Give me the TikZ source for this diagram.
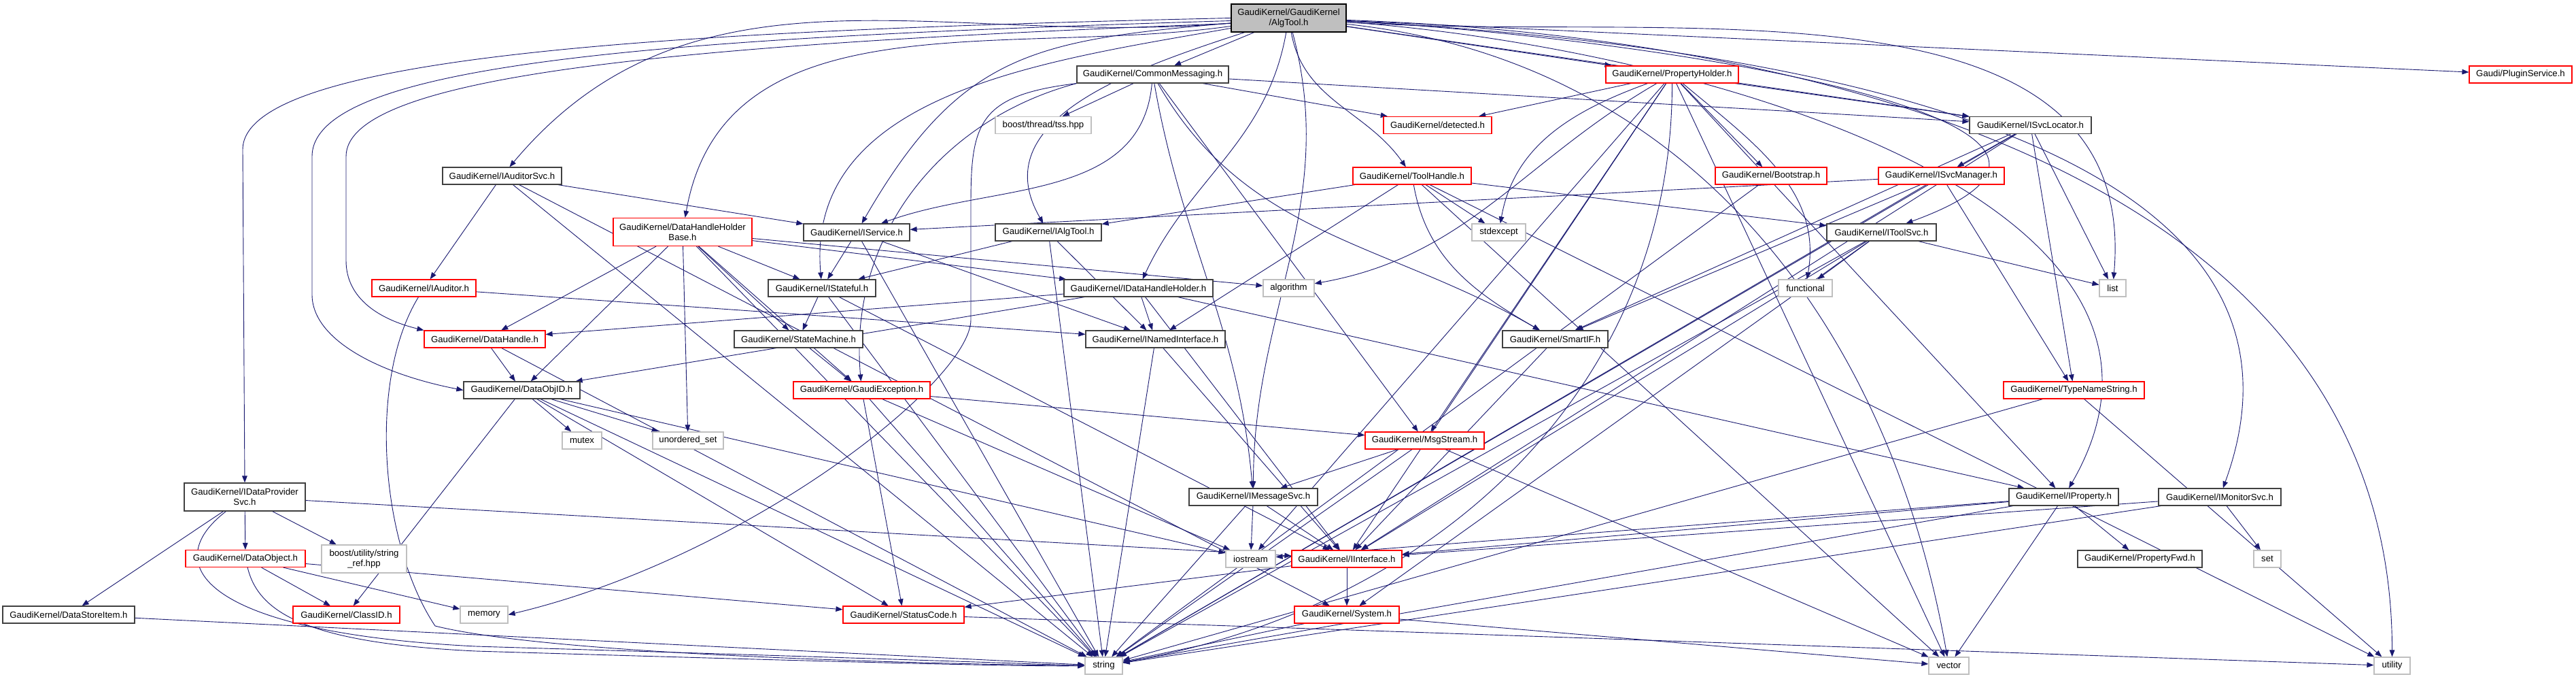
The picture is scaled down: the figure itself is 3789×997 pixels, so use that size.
\documentclass[tikz,border=0pt]{standalone}
\usepackage{fontspec}
\setmainfont{Liberation Sans}
\usetikzlibrary{arrows.meta}

\definecolor{edgeblue}{HTML}{191970}
\definecolor{docgray}{HTML}{404040}
\definecolor{sysgray}{HTML}{BFBFBF}

\pgfdeclarelayer{back}
\pgfdeclarelayer{links}
\pgfsetlayers{back,links,main}

\tikzset{
  hdr/.style={draw=docgray, line width=0.6pt, fill=white, inner sep=0pt,
    minimum height=12.5pt, align=center,
    font=\fontsize{6.6}{7.5}\selectfont},
  hdrred/.style={hdr, draw=red},
  hdrsys/.style={hdr, draw=sysgray},
  hdrtop/.style={hdr, draw=black, fill=sysgray},
  bw/.style={minimum width=#1*0.5pt},
  tall/.style={minimum height=20.5pt},
  link/.style={draw=edgeblue, line width=0.45pt,
    -{Triangle[length=5pt,width=3.8pt]}},
}

\begin{document}
\begin{tikzpicture}[x=0.5pt, y=-0.5pt, every edge/.style={link}]

  \useasboundingbox (0,0) rectangle (3789,997);
  \begin{pgfonlayer}{back}
    \fill[white] (0,0) rectangle (3789,997);
  \end{pgfonlayer}

  % row 0
  \node[hdrtop, bw=169, tall] (main) at (1895.5,26.5) {GaudiKernel/GaudiKernel\\/AlgTool.h};
  % row 1
  \node[hdr, bw=223] (cmsg) at (1695.5,109.5) {GaudiKernel/CommonMessaging.h};
  \node[hdrred, bw=195] (propholder) at (2459.5,109.5) {GaudiKernel/PropertyHolder.h};
  \node[hdrred, bw=151] (plugin) at (3707.5,109.5) {Gaudi/PluginService.h};
  % row 2
  \node[hdrsys, bw=141] (tss) at (1534.5,184) {boost/thread/tss.hpp};
  \node[hdrred, bw=159] (detected) at (2114.5,184) {GaudiKernel/detected.h};
  \node[hdr, bw=179] (isvcloc) at (2986.5,184) {GaudiKernel/ISvcLocator.h};
  % row 3
  \node[hdr, bw=175] (iaudsvc) at (738.5,258.5) {GaudiKernel/IAuditorSvc.h};
  \node[hdrred, bw=174] (toolhandle) at (2077,258.5) {GaudiKernel/ToolHandle.h};
  \node[hdrred, bw=164] (bootstrap) at (2605,258.5) {GaudiKernel/Bootstrap.h};
  \node[hdrred, bw=185] (isvcmgr) at (2855.5,258.5) {GaudiKernel/ISvcManager.h};
  % row 4
  \node[hdrred, bw=204, tall] (dhhbase) at (1004,341) {GaudiKernel/DataHandleHolder\\Base.h};
  \node[hdr, bw=156] (isvc) at (1260,341.5) {GaudiKernel/IService.h};
  \node[hdr, bw=156] (ialgtool) at (1542,341.5) {GaudiKernel/IAlgTool.h};
  \node[hdrsys, bw=79] (stdexc) at (2204.5,341.5) {stdexcept};
  \node[hdr, bw=161] (itoolsvc) at (2767.5,341.5) {GaudiKernel/IToolSvc.h};
  % row 5
  \node[hdrred, bw=153] (iaud) at (623.5,423.5) {GaudiKernel/IAuditor.h};
  \node[hdr, bw=158] (istateful) at (1209,423.5) {GaudiKernel/IStateful.h};
  \node[hdr, bw=219] (idhh) at (1674.5,423.5) {GaudiKernel/IDataHandleHolder.h};
  \node[hdrsys, bw=75] (algo) at (1895.5,423.5) {algorithm};
  \node[hdrsys, bw=79] (functional) at (2655.5,423.5) {functional};
  \node[hdrsys, bw=39] (list) at (3107.5,423.5) {list};
  % row 6
  \node[hdrred, bw=178] (dhandle) at (713,498.5) {GaudiKernel/DataHandle.h};
  \node[hdr, bw=189] (statemach) at (1174.5,498.5) {GaudiKernel/StateMachine.h};
  \node[hdr, bw=205] (inamed) at (1699.5,498.5) {GaudiKernel/INamedInterface.h};
  \node[hdr, bw=155] (smartif) at (2287.5,498.5) {GaudiKernel/SmartIF.h};
  % row 7
  \node[hdr, bw=171] (dataobjid) at (767.5,573.5) {GaudiKernel/DataObjID.h};
  \node[hdrred, bw=201] (gexc) at (1267.5,573.5) {GaudiKernel/GaudiException.h};
  \node[hdrred, bw=207] (typename) at (3050.5,573.5) {GaudiKernel/TypeNameString.h};
  % row 8
  \node[hdrsys, bw=58] (mutex) at (856,647.5) {mutex};
  \node[hdrsys, bw=104] (uset) at (1012,647.5) {unordered\_set};
  \node[hdrred, bw=175] (msgstream) at (2095.5,647.5) {GaudiKernel/MsgStream.h};
  % row 9
  \node[hdr, bw=178, tall] (idps) at (360,730.5) {GaudiKernel/IDataProvider\\Svc.h};
  \node[hdr, bw=189] (imsgsvc) at (1843.5,730.5) {GaudiKernel/IMessageSvc.h};
  \node[hdr, bw=161] (iprop) at (3035.5,730.5) {GaudiKernel/IProperty.h};
  \node[hdr, bw=180] (imonsvc) at (3265,730.5) {GaudiKernel/IMonitorSvc.h};
  % row 10
  \node[hdrred, bw=176] (dataobj) at (361,821) {GaudiKernel/DataObject.h};
  \node[hdrsys, bw=125, tall] (strref) at (535.5,821.5) {boost/utility/string\\\_ref.hpp};
  \node[hdrsys, bw=73] (iostream) at (1839.5,821.5) {iostream};
  \node[hdrred, bw=162] (iinterface) at (1981,821.5) {GaudiKernel/IInterface.h};
  \node[hdr, bw=183] (propfwd) at (3147.5,821.5) {GaudiKernel/PropertyFwd.h};
  \node[hdrsys, bw=40] (set) at (3335,821.5) {set};
  % row 11
  \node[hdr, bw=194] (dsitem) at (101,903.5) {GaudiKernel/DataStoreItem.h};
  \node[hdrred, bw=157] (classid) at (509.5,903.5) {GaudiKernel/ClassID.h};
  \node[hdrsys, bw=70] (memory) at (712,903.5) {memory};
  \node[hdrred, bw=178] (statuscode) at (1329,903.5) {GaudiKernel/StatusCode.h};
  \node[hdrred, bw=154] (system) at (1981,903.5) {GaudiKernel/System.h};
  % row 12
  \node[hdrsys, bw=55] (string) at (1623.5,978.5) {string};
  \node[hdrsys, bw=59] (vector) at (2866.5,978.5) {vector};
  \node[hdrsys, bw=53] (utility) at (3518.5,978.5) {utility};

  \begin{pgfonlayer}{links}
  % AlgTool.h
  \draw (main) edge (cmsg);
  \draw (main) edge (propholder);
  \draw (main) edge (plugin);
  \draw (main) edge (isvcloc);
  \draw (main) edge[out=-80, in=125] (toolhandle);
  \draw[link] (main.west) .. controls (1000,45) and (357,80) .. (357,220) -- (idps.north);
  \draw[link] ([yshift=-2pt]main.west) .. controls (1000,55) and (459,90) .. (459,230)
    -- (459,433) .. controls (459,500) and (560,550) .. (dataobjid.west);
  \draw[link] ([yshift=-4pt]main.west) .. controls (1000,65) and (509,110) .. (509,230)
    -- (509,383) .. controls (509,440) and (560,470) .. (dhandle.north west);
  \draw (main) edge[out=185, in=50] (iaudsvc);
  \draw (main) edge[out=188, in=80] (dhhbase);
  \draw (main) edge[out=185, in=60, looseness=1.2] (isvc);
  \draw (main) edge[out=190, in=95] (istateful);
  \draw (main) edge[out=198, in=120, looseness=1.1] (ialgtool);
  \draw (main) edge[out=-100, in=65] (idhh);
  \draw (main) edge[out=-75, in=90] (imsgsvc);
  \draw (main) edge[out=-3, in=20, looseness=1.3] (itoolsvc);
  \draw (main) edge[out=-4, in=85] (list);
  \draw (main) edge[out=-4, in=60] (iprop);
  \draw (main) edge[out=-3, in=70] (imonsvc);
  \draw (main) edge[out=-6, in=100] (vector);
  \draw (main) edge[out=-2, in=90] (utility);
  % CommonMessaging.h
  \draw[link] (cmsg.south west) .. controls (1440,140) and (1428,180) .. (1428,300)
    -- (1428,470) .. controls (1428,560) and (1100,820) .. (memory.east);
  \draw (cmsg.south west) edge[out=-165, in=95] (gexc);
  \draw (cmsg) edge (tss);
  \draw (cmsg) edge[out=-95, in=20] (isvc);
  \draw (cmsg) edge[out=-80, in=95] (imsgsvc);
  \draw (cmsg) edge[out=-60, in=150] (smartif);
  \draw (cmsg) edge (msgstream);
  \draw (cmsg) edge (detected);
  \draw (cmsg) edge (isvcloc);
  % IAuditorSvc.h, IAuditor.h
  \draw (iaudsvc) edge (isvc);
  \draw (iaudsvc) edge (iaud);
  \draw (iaudsvc) edge (system);
  \draw (iaudsvc) edge (string);
  \draw (iaud) edge (inamed);
  \draw[link] (iaud) .. controls (540,560) and (560,800) .. (640,920)
    .. controls (800,960) and (1300,975) .. (string.west);
  % DataHandleHolderBase.h
  \draw (dhhbase) edge (dhandle);
  \draw (dhhbase) edge (dataobjid);
  \draw (dhhbase) edge (uset);
  \draw (dhhbase) edge (string);
  \draw (dhhbase) edge (gexc);
  \draw (dhhbase) edge (statemach);
  \draw (dhhbase) edge (istateful);
  \draw (dhhbase) edge (idhh);
  \draw (dhhbase) edge (algo);
  % IService.h, IAlgTool.h, IStateful.h
  \draw (isvc) edge (inamed);
  \draw (isvc) edge (istateful);
  \draw (isvc) edge (string);
  \draw (ialgtool) edge (inamed);
  \draw (ialgtool) edge (istateful);
  \draw (ialgtool) edge (string);
  \draw (istateful) edge (statemach);
  \draw (istateful) edge (iinterface);
  \draw (istateful) edge (string);
  \draw (statemach) edge (gexc);
  % GaudiException.h
  \draw (gexc) edge (statuscode);
  \draw (gexc) edge (iostream);
  \draw (gexc) edge (string);
  \draw (gexc) edge (msgstream);
  % IDataHandleHolder.h, DataHandle.h, DataObjID.h
  \draw (idhh) edge (dataobjid);
  \draw (idhh) edge (inamed);
  \draw (idhh) edge (dhandle);
  \draw (idhh) edge (iinterface);
  \draw (idhh) edge (iprop);
  \draw (dhandle) edge (dataobjid);
  \draw (dhandle) edge (string);
  \draw (dataobjid) edge (classid);
  \draw (dataobjid) edge (mutex);
  \draw (dataobjid) edge (uset);
  \draw (dataobjid) edge (string);
  \draw (dataobjid) edge (iostream);
  \draw (dataobjid) edge (statuscode);
  % IDataProviderSvc.h and its branch
  \draw (idps) edge (dsitem);
  \draw (idps) edge (dataobj);
  \draw (idps) edge (strref);
  \draw (idps) edge (iinterface);
  \draw[link] (idps) .. controls (230,830) and (300,930) .. (700,950)
    .. controls (1200,965) and (1500,975) .. (string.west);
  \draw (dsitem) edge (string);
  \draw (dataobj) edge (classid);
  \draw (dataobj) edge (statuscode);
  \draw (dataobj) edge (memory);
  \draw[link] (dataobj) .. controls (380,900) and (450,945) .. (700,957)
    .. controls (1200,972) and (1500,980) .. (string.west);
  % messaging and interfaces
  \draw (inamed) edge (iinterface);
  \draw (inamed) edge (string);
  \draw (imsgsvc) edge (iinterface);
  \draw (imsgsvc) edge (iostream);
  \draw (imsgsvc) edge (string);
  \draw (msgstream) edge (imsgsvc);
  \draw (msgstream) edge (string);
  \draw (msgstream) edge (vector);
  \draw (iinterface) edge (system);
  \draw (iinterface) edge (statuscode);
  \draw (system) edge (string);
  \draw (system) edge (vector);
  \draw (statuscode) edge (utility);
  \draw (smartif) edge (iinterface);
  % ToolHandle.h
  \draw (toolhandle) edge (ialgtool);
  \draw (toolhandle) edge (inamed);
  \draw (toolhandle) edge[out=-80, in=150] (smartif);
  \draw (toolhandle) edge (stdexc);
  \draw (toolhandle) edge (itoolsvc);
  \draw (toolhandle) edge (vector);
  \draw (toolhandle) edge (utility);
  % PropertyHolder.h
  \draw (propholder) edge (detected);
  \draw (propholder) edge[out=-160, in=80] (stdexc);
  \draw (propholder) edge[out=-150, in=10] (algo);
  \draw (propholder) edge (iinterface);
  \draw (propholder) edge (msgstream);
  \draw (propholder) edge[out=-90, in=10] (string);
  \draw (propholder) edge (iostream);
  \draw (propholder) edge (bootstrap);
  \draw (propholder) edge[out=-40, in=80] (functional);
  \draw (propholder) edge (isvcloc);
  \draw (propholder) edge (iprop);
  \draw (propholder) edge (vector);
  \draw (bootstrap) edge (string);
  % services
  \draw (isvcloc) edge (isvcmgr);
  \draw (isvcloc) edge (string);
  \draw (isvcloc) edge (typename);
  \draw (isvcloc) edge (list);
  \draw (isvcloc) edge (smartif);
  \draw (isvcloc) edge (iinterface);
  \draw (isvcmgr) edge (isvc);
  \draw (isvcmgr) edge (smartif);
  \draw (isvcmgr) edge (typename);
  \draw (isvcmgr) edge (string);
  \draw (itoolsvc) edge (functional);
  \draw (itoolsvc) edge (list);
  \draw (itoolsvc) edge (string);
  \draw (itoolsvc) edge (iinterface);
  \draw (itoolsvc) edge (system);
  \draw (typename) edge (string);
  \draw (typename) edge (utility);
  % properties and monitoring
  \draw (iprop) edge (iostream);
  \draw (iprop) edge (iinterface);
  \draw (iprop) edge (propfwd);
  \draw (iprop) edge (string);
  \draw (iprop) edge (vector);
  \draw (imonsvc) edge (iinterface);
  \draw (imonsvc) edge (set);
  \draw (imonsvc) edge (string);
  \end{pgfonlayer}

\end{tikzpicture}
\end{document}
